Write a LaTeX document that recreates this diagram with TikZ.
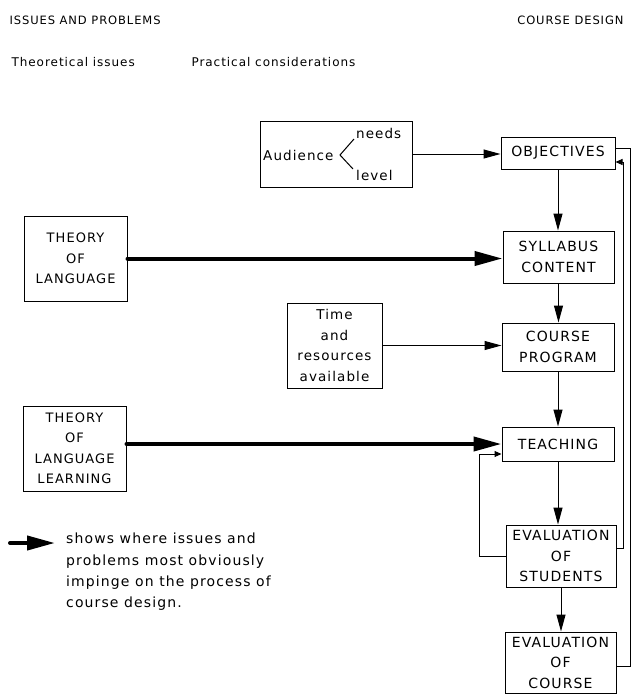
\documentclass[tikz,border=0pt]{standalone}
\usepackage{fontspec}
\setmainfont{DejaVu Sans}[LetterSpace=8]
\usetikzlibrary{arrows.meta,positioning}

\begin{document}
\begin{tikzpicture}[x=1pt,y=-1pt,
    box/.style={draw,line width=1pt,inner sep=0pt,align=center,
                font=\fontsize{14}{20.5}\selectfont},
    thbox/.style={box,minimum width=103pt,minimum height=85pt,
                font=\fontsize{13}{20.5}\selectfont},
    flow/.style={line width=1pt,-{Triangle[length=17pt,width=9pt]}},
    impinge/.style={line width=4pt,line cap=round,-{Triangle[length=28pt,width=14pt]}},
    back/.style={line width=1pt,-{Triangle[length=7pt,width=6pt]}},
    head/.style={font=\fontsize{11.5}{14}\selectfont},
    sub/.style={font=\fontsize{12}{14}\selectfont}]
            \useasboundingbox (0,0) rectangle (631,694);
            % Headings
            \node[head,anchor=west] (issues) at (6,20) {ISSUES AND PROBLEMS};
            \node[head,anchor=east] (design) at (627,20) {COURSE DESIGN};
            \node[sub,anchor=west] (theor) at (8,62) {Theoretical issues};
            \node[sub,anchor=west] (pract) at (188,62) {Practical considerations};
            % Course design column
            \node[box,minimum width=114pt,minimum height=32pt] (objbox)   at (558,153)   {OBJECTIVES};
            \node[box,minimum width=111pt,minimum height=52pt] (sylbox)   at (558.5,257) {SYLLABUS\\CONTENT};
            \node[box,minimum width=112pt,minimum height=48pt] (progbox)  at (558,347)   {COURSE\\PROGRAM};
            \node[box,minimum width=112pt,minimum height=34pt] (teachbox) at (558,444)   {TEACHING};
            \node[box,minimum width=110pt,minimum height=62pt] (evstud)   at (561,556)   {EVALUATION\\OF\\STUDENTS};
            \node[box,minimum width=111pt,minimum height=61pt] (evcourse) at (560.5,662.5) {EVALUATION\\OF\\COURSE};
            % Theoretical issues
            \node[thbox] (thlang)  at (75.5,258.5) {THEORY\\OF\\LANGUAGE};
            \node[thbox] (thlearn) at (74.5,448.5) {THEORY\\OF\\LANGUAGE\\LEARNING};
            % Practical considerations
            \node[box,minimum width=152pt,minimum height=66pt] (audbox) at (336,154) {};
            \node[anchor=west,inner sep=1pt,font=\fontsize{13.5}{16}\selectfont] (aud)   at (262,155) {Audience};
            \node[anchor=west,inner sep=1pt,font=\fontsize{13.5}{16}\selectfont] (needs) at (355,133) {needs};
            \node[anchor=west,inner sep=1pt,font=\fontsize{13.5}{16}\selectfont] (level) at (355,175) {level};
            \coordinate (fork) at (340,155);
            \draw[line width=1pt] (354,139) -- (fork) -- (353,169);
            \node[box,minimum width=95pt,minimum height=85pt,font=\fontsize{13.5}{20.5}\selectfont] (timebox) at (334.5,345.5) {Time\\and\\resources\\available};
            % Flow of course design
            \draw[flow] (audbox.east) -- (audbox.east -| objbox.west);
            \draw[flow] (objbox.south) -- (objbox.south |- sylbox.north);
            \draw[flow] (sylbox.south) -- (sylbox.south |- progbox.north);
            \draw[flow] (progbox.south) -- (progbox.south |- teachbox.north);
            \draw[flow] (teachbox.south) -- (teachbox.south |- evstud.north);
            \draw[flow] (evstud.south) -- (evstud.south |- evcourse.north);
            \draw[flow] (timebox.east) -- (timebox.east -| progbox.west);
            % Where the issues impinge
            \draw[impinge] (thlang.east) -- (thlang.east -| sylbox.west);
            \draw[impinge] (thlearn.east |- teachbox.west) -- (teachbox.west);
            % Feedback loops
            \draw[back] (evstud.west) -- ++(-26,0) |- ([yshift=-10pt]teachbox.west);
            \draw[back] ([yshift=8pt]evstud.east) -- ++(7,0) |- ([yshift=-9pt]objbox.east);
            \draw[line width=1pt] ([yshift=-4pt]evcourse.east) -- ++(14,0) |- ([yshift=5pt]objbox.east);
            % Key
            \coordinate (keyfrom) at (10,543);
            \coordinate (keytip)  at (55,543);
            \draw[impinge] (keyfrom) -- (keytip);
            \node[anchor=north west,align=left,inner sep=1pt,font=\fontsize{14}{21.3}\selectfont] (keytext) at (65,532)
                 {shows where issues and\\problems most obviously\\impinge on the process of\\course design.};
\end{tikzpicture}
\end{document}
